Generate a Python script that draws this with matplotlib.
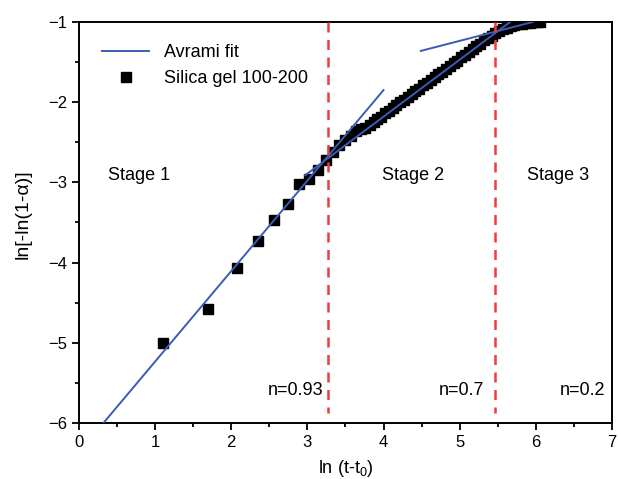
import numpy as np
import matplotlib.pyplot as plt
from matplotlib.ticker import MultipleLocator

plt.rcParams['font.family'] = ['Liberation Sans', 'DejaVu Sans']
plt.rcParams['mathtext.default'] = 'regular'

# measured points ln(t-t0), ln[-ln(1-a)]
x_data = [1.10, 1.70, 2.08, 2.35, 2.56, 2.74, 2.89, 3.02, 3.14, 3.24, 3.34, 3.42, 3.50,
          3.57, 3.64, 3.70, 3.76, 3.82, 3.87, 3.92, 3.97, 4.02, 4.07, 4.12, 4.17, 4.22,
          4.27, 4.32, 4.37, 4.42, 4.47, 4.52, 4.57, 4.62, 4.67, 4.72, 4.77, 4.82, 4.87,
          4.92, 4.97, 5.02, 5.07, 5.12, 5.17, 5.22, 5.27, 5.32, 5.37, 5.42, 5.47, 5.52,
          5.57, 5.62, 5.67, 5.72, 5.77, 5.82, 5.87, 5.92, 5.97, 6.02, 6.05]
y_data = [-5.00, -4.58, -4.07, -3.73, -3.47, -3.27, -3.02, -2.96, -2.84, -2.72, -2.62, -2.53, -2.47,
          -2.42, -2.36, -2.34, -2.32, -2.28, -2.25, -2.21, -2.18, -2.14, -2.11, -2.07, -2.04, -2.00,
          -1.97, -1.93, -1.90, -1.86, -1.83, -1.79, -1.76, -1.72, -1.69, -1.65, -1.62, -1.58, -1.55,
          -1.51, -1.48, -1.44, -1.41, -1.37, -1.34, -1.30, -1.27, -1.23, -1.20, -1.17, -1.14, -1.11,
          -1.09, -1.07, -1.05, -1.04, -1.03, -1.02, -1.01, -1.01, -1.00, -1.00, -1.00]

# Avrami fits for each stage: slope, intercept, x range
fit_slope = [1.128, 0.71, 0.245]
fit_icpt = [-6.361, -5.02, -2.46]
fit_x0 = [0.32, 2.97, 4.49]
fit_x1 = [4.00, 5.66, 5.96]

stage_bounds = [3.27, 5.47]
stage_names = ['Stage 1', 'Stage 2', 'Stage 3']
stage_name_x = [0.38, 3.98, 5.89]
n_labels = ['n=0.93', 'n=0.7', 'n=0.2']
n_label_x = [2.48, 4.72, 6.31]

blue = '#3c5bb4'

fig = plt.figure(figsize=(6.18, 4.79), dpi=100)
ax = fig.add_axes([0.128, 0.117, 0.862, 0.837])

for i in range(3):
    xx = np.array([fit_x0[i], fit_x1[i]])
    ax.plot(xx, fit_slope[i]*xx + fit_icpt[i], color=blue, lw=1.4,
            label='Avrami fit' if i == 0 else None, zorder=3)

ax.plot(x_data, y_data, 's', color='black', ms=7.2, mec='black',
        label='Silica gel 100-200', zorder=2)

for xb in stage_bounds:
    ax.plot([xb, xb], [-1, -5.87], color='#f03c3c', lw=1.8, ls=(0, (4, 3)), zorder=4)

for i in range(3):
    ax.text(stage_name_x[i], -2.92, stage_names[i], fontsize=13, va='center')
    ax.text(n_label_x[i], -5.6, n_labels[i], fontsize=13, va='center')

ax.set_xlim(0, 7)
ax.set_ylim(-6, -1)
ax.xaxis.set_major_locator(MultipleLocator(1))
ax.xaxis.set_minor_locator(MultipleLocator(0.5))
ax.yaxis.set_major_locator(MultipleLocator(1))
ax.yaxis.set_minor_locator(MultipleLocator(0.5))
ax.tick_params(which='both', direction='out', top=False, right=False, labelsize=12, width=1.3)
ax.tick_params(which='major', length=5)
ax.tick_params(which='minor', length=3)
for s in ax.spines.values():
    s.set_linewidth(1.4)

ax.set_xlabel('ln (t-t$_0$)', fontsize=13, labelpad=6)
ax.set_ylabel('ln[-ln(1-α)]', fontsize=14, labelpad=4)
ax.yaxis.set_label_coords(-0.09, 0.52)

ax.legend(loc='upper left', frameon=False, fontsize=13, handlelength=2.6,
          borderaxespad=0.6, bbox_to_anchor=(0.01, 0.99), labelspacing=0.5)

fig.savefig('out.png', dpi=100)
